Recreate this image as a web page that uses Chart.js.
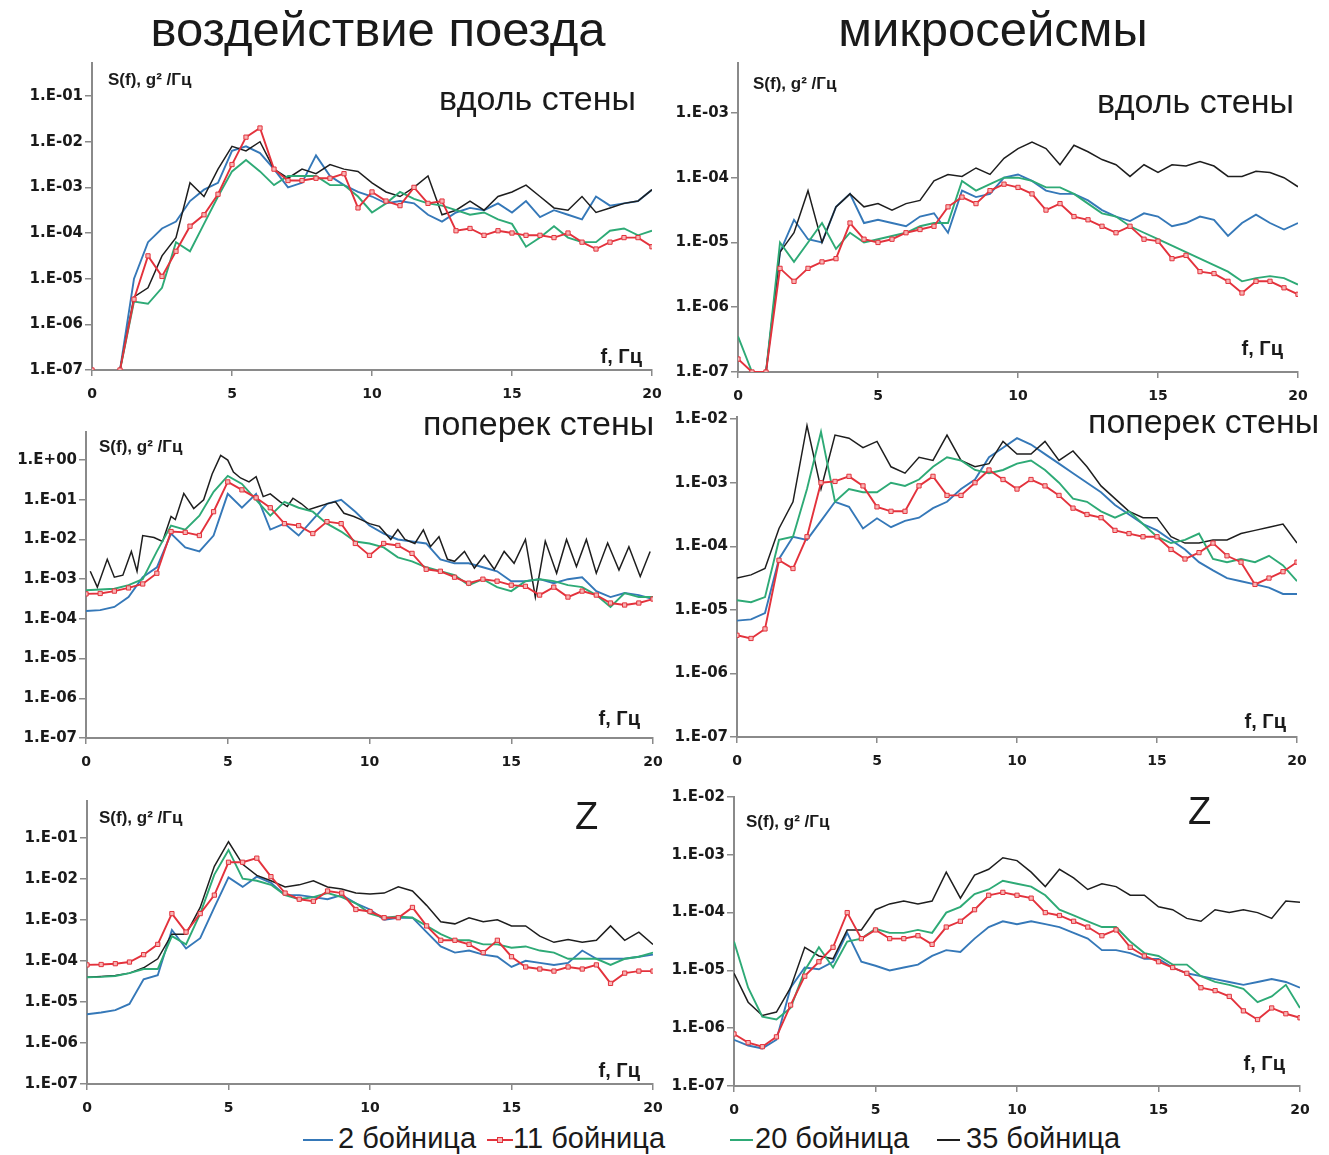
<!DOCTYPE html>
<html>
<head>
<meta charset="utf-8">
<script src="https://cdn.jsdelivr.net/npm/chart.js@4.4.1/dist/chart.umd.min.js"></script>
<style>
body { margin: 0; background: #fff; width: 1329px; height: 1155px; position: relative; overflow: hidden;
       font-family: "Liberation Sans", Arial, sans-serif; color: #1a1a1a; }
.t { position: absolute; white-space: nowrap; line-height: 1; }
.leg { position: absolute; height: 2px; }
</style>
</head>
<body>
<script>
// frequency grid, Hz
const freq = [0,0.5,1,1.5,2,2.5,3,3.5,4,4.5,5,5.5,6,6.5,7,7.5,8,8.5,9,9.5,10,
              10.5,11,11.5,12,12.5,13,13.5,14,14.5,15,15.5,16,16.5,17,17.5,18,18.5,19,19.5,20];
const xTicks = [0, 5, 10, 15, 20];
const seriesNames = ['2 бойница', '11 бойница', '20 бойница', '35 бойница'];

// all spectra below are log10 of S(f)

// воздействие поезда, вдоль стены
const trainAlong2  = [null,null,-7,-5.0,-4.2,-3.9,-3.75,-3.3,-3.05,-2.9,-2.2,-2.1,-2.25,-2.6,-3.0,-2.9,-2.3,-2.75,-2.95,-3.1,-3.2,
                      -3.35,-3.3,-3.35,-3.6,-3.75,-3.55,-3.45,-3.5,-3.35,-3.55,-3.3,-3.65,-3.5,-3.6,-3.7,-3.2,-3.4,-3.35,-3.3,-3.05];
const trainAlong11 = [-7,null,-7,-5.45,-4.5,-4.95,-4.4,-3.85,-3.6,-3.15,-2.5,-1.9,-1.7,-2.6,-2.85,-2.85,-2.8,-2.8,-2.7,-3.45,-3.1,
                      -3.3,-3.4,-3.0,-3.35,-3.3,-3.95,-3.9,-4.05,-3.95,-4.0,-4.05,-4.05,-4.1,-4.0,-4.2,-4.35,-4.2,-4.1,-4.1,-4.3];
const trainAlong20 = [null,null,-7,-5.5,-5.55,-5.2,-4.2,-4.4,-3.8,-3.2,-2.65,-2.4,-2.65,-2.95,-2.75,-2.75,-2.75,-2.95,-2.95,-3.2,-3.55,
                      -3.35,-3.1,-3.25,-3.35,-3.4,-3.5,-3.6,-3.55,-3.7,-3.8,-4.3,-4.1,-3.85,-4.1,-4.2,-4.2,-3.95,-3.9,-4.05,-3.95];
const trainAlong35 = [null,null,-7,-5.4,-5.2,-4.5,-4.1,-2.9,-3.2,-2.6,-2.1,-2.2,-2.0,-2.6,-2.8,-2.6,-2.7,-2.5,-2.6,-2.65,-2.9,
                      -3.1,-3.2,-3.0,-2.75,-3.6,-3.5,-3.3,-3.5,-3.2,-3.1,-2.95,-3.2,-3.45,-3.5,-3.2,-3.55,-3.45,-3.35,-3.3,-3.05];

// микросейсмы, вдоль стены
const microAlong2  = [null,null,-7,-5.15,-4.65,-4.95,-5.0,-4.45,-4.25,-4.7,-4.65,-4.7,-4.75,-4.6,-4.55,-4.85,-4.2,-4.3,-4.25,-4.0,-3.95,
                      -4.05,-4.2,-4.25,-4.25,-4.35,-4.5,-4.6,-4.67,-4.55,-4.6,-4.75,-4.7,-4.6,-4.65,-4.9,-4.7,-4.57,-4.7,-4.8,-4.7];
const microAlong11 = [-6.8,-7,-7,-5.4,-5.6,-5.4,-5.3,-5.25,-4.7,-4.95,-5.0,-4.95,-4.85,-4.8,-4.75,-4.45,-4.3,-4.4,-4.2,-4.1,-4.15,
                      -4.25,-4.5,-4.4,-4.6,-4.65,-4.75,-4.85,-4.75,-4.95,-4.98,-5.25,-5.2,-5.45,-5.48,-5.6,-5.78,-5.6,-5.6,-5.7,-5.8];
const microAlong20 = [-6.45,-7,-7,-5.0,-5.3,-5.0,-4.7,-5.1,-4.85,-5.0,-4.95,-4.9,-4.85,-4.75,-4.7,-4.7,-4.05,-4.2,-4.1,-4.0,-4.0,
                      -4.05,-4.15,-4.15,-4.25,-4.4,-4.55,-4.6,-4.75,-4.85,-4.95,-5.05,-5.15,-5.25,-5.35,-5.45,-5.6,-5.55,-5.52,-5.55,-5.65];
const microAlong35 = [null,null,-7,-5.15,-4.85,-4.2,-5.0,-4.45,-4.25,-4.45,-4.4,-4.5,-4.4,-4.35,-4.05,-3.95,-3.98,-3.85,-3.95,-3.7,-3.55,
                      -3.45,-3.55,-3.8,-3.5,-3.6,-3.72,-3.8,-3.98,-3.8,-3.92,-3.8,-3.82,-3.75,-3.82,-3.98,-3.98,-3.9,-3.92,-4.0,-4.14];

// воздействие поезда, поперек стены
const trainAcross2  = [-3.8,-3.78,-3.7,-3.45,-2.95,-2.7,-1.85,-2.2,-2.3,-1.9,-0.85,-1.2,-0.85,-1.75,-1.6,-1.9,-1.5,-1.1,-1.0,-1.3,-1.65,
                       -1.85,-2.0,-2.05,-2.1,-2.5,-2.6,-2.6,-2.7,-2.8,-3.05,-3.05,-3.0,-3.1,-3.0,-2.95,-3.3,-3.45,-3.35,-3.4,-3.5];
const trainAcross11 = [-3.37,-3.36,-3.3,-3.22,-3.12,-2.85,-1.8,-1.82,-1.9,-1.3,-0.55,-0.75,-0.95,-1.2,-1.6,-1.65,-1.85,-1.55,-1.6,-2.1,-2.4,
                       -2.1,-2.15,-2.35,-2.75,-2.8,-2.95,-3.1,-3.0,-3.05,-3.15,-3.18,-3.4,-3.2,-3.45,-3.3,-3.4,-3.6,-3.65,-3.6,-3.5];
const trainAcross20 = [-3.28,-3.26,-3.24,-3.15,-3.0,-2.3,-1.65,-1.75,-1.4,-0.8,-0.4,-0.6,-1.0,-1.4,-1.05,-1.2,-1.3,-1.6,-1.8,-2.05,-2.1,
                       -2.2,-2.45,-2.55,-2.7,-2.8,-2.9,-3.15,-3.0,-3.2,-3.3,-3.05,-3.0,-3.05,-3.15,-3.2,-3.4,-3.7,-3.35,-3.45,-3.45];
// 35 бойница here oscillates faster than the 0.5 Hz grid, so it has its own frequencies
const trainAcross35Freq = [0.15,0.4,0.75,1.0,1.3,1.6,1.8,2.0,2.4,2.7,3.0,3.15,3.45,3.8,4.15,4.45,4.75,5.0,5.2,5.45,
                           5.75,6.0,6.25,6.5,6.85,7.1,7.3,7.6,7.85,8.2,8.55,8.8,9.1,9.45,9.7,10.0,10.35,10.75,11.0,11.25,
                           11.6,11.9,12.15,12.45,12.75,13.0,13.35,13.7,14.05,14.4,14.75,15.1,15.5,15.85,16.2,16.6,16.95,17.3,17.65,18.0,
                           18.4,18.8,19.15,19.55,19.9];
const trainAcross35 = [-2.8,-3.2,-2.5,-2.95,-2.9,-2.3,-2.8,-1.9,-1.95,-2.05,-1.42,-1.5,-0.84,-1.22,-1.0,-0.35,0.12,0.0,-0.3,-0.45,
                       -0.55,-0.42,-0.92,-0.85,-1.05,-1.17,-0.96,-1.1,-1.25,-1.17,-1.09,-1.05,-1.34,-1.42,-1.5,-1.6,-1.67,-2.0,-1.75,-2.0,
                       -2.1,-1.76,-2.18,-1.93,-2.5,-2.55,-2.3,-2.72,-2.4,-2.75,-2.3,-2.6,-2.0,-3.45,-2.04,-2.85,-2.0,-2.68,-2.0,-2.85,
                       -2.09,-2.77,-2.18,-2.93,-2.3];

// микросейсмы, поперек стены
const microAcross2  = [-5.17,-5.15,-5.05,-4.2,-3.85,-3.9,-3.6,-3.3,-3.38,-3.72,-3.56,-3.7,-3.6,-3.55,-3.4,-3.3,-3.1,-2.95,-2.6,-2.45,-2.3,
                       -2.4,-2.55,-2.7,-2.85,-3.0,-3.15,-3.35,-3.5,-3.65,-3.75,-3.9,-4.05,-4.25,-4.38,-4.5,-4.55,-4.6,-4.65,-4.75,-4.75];
const microAcross11 = [-5.4,-5.45,-5.3,-4.22,-4.35,-3.85,-3.0,-2.98,-2.9,-3.05,-3.38,-3.45,-3.45,-3.05,-2.9,-3.2,-3.2,-3.0,-2.8,-2.95,-3.1,
                       -2.95,-3.05,-3.2,-3.4,-3.5,-3.55,-3.75,-3.8,-3.85,-3.85,-4.05,-4.2,-4.1,-3.95,-4.15,-4.25,-4.6,-4.5,-4.4,-4.25];
const microAcross20 = [-4.85,-4.88,-4.8,-3.9,-3.85,-3.1,-2.2,-3.3,-3.1,-3.15,-3.15,-3.0,-3.05,-2.95,-2.75,-2.6,-2.65,-2.8,-2.85,-2.8,-2.7,
                       -2.65,-2.8,-3.0,-3.25,-3.3,-3.45,-3.55,-3.45,-3.65,-3.85,-3.95,-3.9,-3.8,-4.2,-4.25,-4.2,-4.25,-4.15,-4.3,-4.55];
const microAcross35 = [-4.5,-4.45,-4.35,-3.72,-3.3,-2.1,-3.1,-2.25,-2.3,-2.45,-2.35,-2.75,-2.85,-2.6,-2.65,-2.25,-2.65,-2.75,-2.7,-2.35,-2.55,
                       -2.55,-2.35,-2.65,-2.5,-2.75,-3.05,-3.25,-3.45,-3.55,-3.55,-3.85,-3.95,-3.95,-3.9,-3.9,-3.8,-3.75,-3.7,-3.65,-3.95];

// воздействие поезда, Z
const trainZ2  = [-5.3,-5.26,-5.2,-5.05,-4.45,-4.35,-3.25,-3.7,-3.45,-2.7,-1.97,-2.2,-1.95,-2.1,-2.4,-2.4,-2.45,-2.5,-2.4,-2.6,-2.75,
                  -3.0,-2.95,-2.95,-3.3,-3.65,-3.8,-3.75,-3.85,-3.9,-4.15,-4.0,-4.05,-4.1,-4.05,-3.75,-3.95,-3.95,-3.95,-3.9,-3.85];
const trainZ11 = [-4.1,-4.09,-4.07,-4.03,-3.85,-3.6,-2.85,-3.3,-2.85,-2.4,-1.6,-1.6,-1.5,-1.95,-2.35,-2.5,-2.55,-2.3,-2.35,-2.75,-2.8,
                  -2.95,-2.95,-2.7,-3.15,-3.5,-3.5,-3.6,-3.8,-3.5,-3.9,-4.15,-4.2,-4.25,-4.15,-4.2,-4.1,-4.55,-4.3,-4.25,-4.25];
const trainZ20 = [-4.4,-4.39,-4.37,-4.3,-4.2,-4.2,-3.4,-3.6,-2.85,-1.9,-1.3,-2.0,-2.05,-2.15,-2.4,-2.5,-2.45,-2.35,-2.45,-2.6,-2.85,
                  -2.95,-2.92,-2.95,-3.15,-3.35,-3.5,-3.5,-3.6,-3.6,-3.68,-3.65,-3.75,-3.8,-3.95,-3.95,-3.95,-4.1,-3.95,-3.9,-3.8];
const trainZ35 = [-4.4,-4.38,-4.36,-4.3,-4.17,-3.95,-3.35,-3.35,-2.7,-1.7,-1.1,-1.65,-1.92,-2.05,-2.2,-2.15,-2.05,-2.2,-2.25,-2.35,-2.37,
                  -2.35,-2.2,-2.3,-2.65,-3.05,-3.1,-2.95,-3.05,-3.0,-3.15,-3.15,-3.4,-3.55,-3.48,-3.55,-3.5,-3.15,-3.5,-3.3,-3.6];

// микросейсмы, Z
const microZ2  = [-6.2,-6.3,-6.35,-6.2,-5.3,-4.95,-4.98,-4.85,-4.35,-4.85,-4.92,-5.0,-4.95,-4.9,-4.75,-4.65,-4.68,-4.45,-4.25,-4.15,-4.2,
                  -4.15,-4.2,-4.25,-4.35,-4.45,-4.65,-4.65,-4.7,-4.8,-4.8,-4.95,-5.05,-5.1,-5.15,-5.2,-5.25,-5.2,-5.15,-5.2,-5.3];
const microZ11 = [-6.1,-6.25,-6.32,-6.15,-5.6,-5.1,-4.85,-4.6,-4.0,-4.45,-4.3,-4.45,-4.45,-4.4,-4.55,-4.25,-4.15,-3.95,-3.7,-3.65,-3.7,
                  -3.75,-4.0,-4.05,-4.15,-4.25,-4.4,-4.3,-4.6,-4.75,-4.85,-4.95,-5.05,-5.3,-5.35,-5.45,-5.7,-5.85,-5.65,-5.75,-5.82];
const microZ20 = [-4.5,-5.3,-5.8,-5.85,-5.65,-5.0,-4.6,-4.95,-4.5,-4.45,-4.28,-4.35,-4.35,-4.3,-4.35,-4.0,-3.9,-3.68,-3.6,-3.45,-3.5,
                  -3.55,-3.7,-3.95,-4.05,-4.15,-4.25,-4.25,-4.5,-4.7,-4.75,-4.9,-4.9,-5.1,-5.2,-5.25,-5.32,-5.55,-5.45,-5.25,-5.65];
const microZ35 = [-5.05,-5.55,-5.78,-5.72,-5.3,-4.6,-4.75,-4.8,-4.3,-4.3,-3.95,-3.85,-3.8,-3.85,-3.8,-3.3,-3.75,-3.35,-3.25,-3.05,-3.1,
                  -3.3,-3.55,-3.25,-3.4,-3.6,-3.5,-3.55,-3.7,-3.7,-3.9,-3.95,-4.1,-4.15,-3.95,-4.0,-3.95,-4.0,-4.1,-3.8,-3.82];

// y tick labels of each panel
const ticksTrainAlong  = ['1.E-07','1.E-06','1.E-05','1.E-04','1.E-03','1.E-02','1.E-01'];
const ticksMicroAlong  = ['1.E-07','1.E-06','1.E-05','1.E-04','1.E-03'];
const ticksTrainAcross = ['1.E-07','1.E-06','1.E-05','1.E-04','1.E-03','1.E-02','1.E-01','1.E+00'];
const ticksMicroAcross = ['1.E-07','1.E-06','1.E-05','1.E-04','1.E-03','1.E-02'];
const ticksTrainZ      = ['1.E-07','1.E-06','1.E-05','1.E-04','1.E-03','1.E-02','1.E-01'];
const ticksMicroZ      = ['1.E-07','1.E-06','1.E-05','1.E-04','1.E-03','1.E-02'];

const colors = ['#3578b8', '#e3323c', '#2eaa76', '#1e1e1e'];
const axisGrey = '#8a8a8a';

// area = [left, top, right, bottom] of the plot area on the page
const panels = [
  { area: [92, 63, 652, 370],  max: 0.53,   ticks: ticksTrainAlong,
    series: [[freq, trainAlong2], [freq, trainAlong11], [freq, trainAlong20], [freq, trainAlong35]] },
  { area: [738, 63, 1298, 372], max: 5.9e-3, ticks: ticksMicroAlong,
    series: [[freq, microAlong2], [freq, microAlong11], [freq, microAlong20], [freq, microAlong35]] },
  { area: [86, 432, 653, 738],  max: 5.1,    ticks: ticksTrainAcross,
    series: [[freq, trainAcross2], [freq, trainAcross11], [freq, trainAcross20], [trainAcross35Freq, trainAcross35]] },
  { area: [737, 417, 1297, 737], max: 1.08e-2, ticks: ticksMicroAcross,
    series: [[freq, microAcross2], [freq, microAcross11], [freq, microAcross20], [freq, microAcross35]] },
  { area: [87, 801, 653, 1084], max: 0.78,   ticks: ticksTrainZ,
    series: [[freq, trainZ2], [freq, trainZ11], [freq, trainZ20], [freq, trainZ35]] },
  { area: [734, 797, 1300, 1086], max: 1.0e-2, ticks: ticksMicroZ,
    series: [[freq, microZ2], [freq, microZ11], [freq, microZ20], [freq, microZ35]] }
];

function makeDataset(xs, ys, i) {
  const red = i === 1;
  return {
    label: seriesNames[i],
    data: xs.map((f, k) => ({ x: f, y: ys[k] === null ? null : Math.pow(10, ys[k]) })),
    borderColor: colors[i],
    borderWidth: i === 3 ? 1.5 : 1.9,
    pointRadius: red ? 3 : 0,
    pointStyle: 'rect',
    pointBorderWidth: 1,
    pointBorderColor: colors[1],
    pointBackgroundColor: '#f7b5b5',
    tension: 0,
    spanGaps: false,
    order: [3, 0, 1, 2][i]
  };
}

// y axis box width, top padding, right padding (room for the "20" label), x axis box height
const YW = 75, PT = 12, PR = 28, XH = 36;
const yTickFont = { family: 'DejaVu Sans', weight: 'bold', size: 15 };
const xTickFont = { family: 'DejaVu Sans', weight: 'bold', size: 14 };

panels.forEach(p => {
  const [L, T, R, B] = p.area;
  const w = R - L + YW + PR, h = B - T + PT + XH;
  const c = document.createElement('canvas');
  c.width = w; c.height = h;
  c.style.cssText = 'position:absolute;left:' + (L - YW) + 'px;top:' + (T - PT) + 'px;width:' + w + 'px;height:' + h + 'px';
  document.body.appendChild(c);
  const labelOf = new Map(p.ticks.map(s => [Number(s), s]));
  new Chart(c, {
    type: 'line',
    data: { datasets: p.series.map((s, i) => makeDataset(s[0], s[1], i)) },
    options: {
      responsive: false,
      animation: false,
      devicePixelRatio: 1,
      layout: { padding: { top: PT, right: PR, left: 0, bottom: 0 } },
      plugins: { legend: { display: false }, tooltip: { enabled: false } },
      scales: {
        x: {
          type: 'linear', min: 0, max: 20,
          afterBuildTicks: a => { a.ticks = xTicks.map(v => ({ value: v })); },
          afterFit: a => { a.height = XH; },
          grid: { drawOnChartArea: false, color: axisGrey, tickLength: 6, lineWidth: 1.5 },
          border: { color: axisGrey, width: 2 },
          ticks: { font: xTickFont, color: '#1a1a1a', padding: 10, maxRotation: 0, autoSkip: false }
        },
        y: {
          type: 'logarithmic', min: 1e-7, max: p.max, bounds: 'data',
          afterBuildTicks: a => { a.ticks = p.ticks.map(s => ({ value: Number(s) })); },
          afterFit: a => { a.width = YW; },
          grid: { drawOnChartArea: false, color: axisGrey, tickLength: 7, lineWidth: 1.5 },
          border: { color: axisGrey, width: 2 },
          ticks: { font: yTickFont, color: '#1a1a1a', padding: 2, autoSkip: false,
                   callback: v => labelOf.get(v) || '' }
        }
      }
    }
  });
});

// text placed by its baseline
function text(str, x, base, size, opt) {
  opt = opt || {};
  const d = document.createElement('div');
  d.className = 't';
  d.textContent = str;
  d.style.fontSize = size + 'px';
  d.style.top = (base - 0.8465 * size) + 'px';
  if (opt.bold) d.style.fontWeight = 'bold';
  if (opt.align === 'right') d.style.right = (1329 - x) + 'px';
  else if (opt.align === 'center') { d.style.left = x + 'px'; d.style.transform = 'translateX(-50%)'; }
  else d.style.left = x + 'px';
  document.body.appendChild(d);
}

text('воздействие поезда', 378, 46, 49, { align: 'center' });
text('микросейсмы', 993, 46, 49, { align: 'center' });
text('вдоль стены', 439, 110, 34);
text('вдоль стены', 1097, 113, 34);
text('поперек стены', 423, 435, 34);
text('поперек стены', 1088, 433, 34);
text('Z', 575, 829, 38);
text('Z', 1188, 824, 38);

const yTitle = 'S(f), g² /Гц';
text(yTitle, 108, 85, 17, { bold: true });
text(yTitle, 753, 89, 17, { bold: true });
text(yTitle, 99, 452, 17, { bold: true });
text(yTitle, 99, 823, 17, { bold: true });
text(yTitle, 746, 827, 17, { bold: true });

const xTitle = 'f, Гц';
text(xTitle, 642, 363, 20, { bold: true, align: 'right' });
text(xTitle, 1283, 355, 20, { bold: true, align: 'right' });
text(xTitle, 640, 725, 20, { bold: true, align: 'right' });
text(xTitle, 1286, 728, 20, { bold: true, align: 'right' });
text(xTitle, 640, 1077, 20, { bold: true, align: 'right' });
text(xTitle, 1285, 1070, 20, { bold: true, align: 'right' });

// legend along the bottom
const legendItems = [[303, 333, 338], [487, 513, 513], [730, 753, 755], [937, 960, 966]];
legendItems.forEach((it, i) => {
  const ln = document.createElement('div');
  ln.className = 'leg';
  ln.style.cssText = 'left:' + it[0] + 'px;top:1139px;width:' + (it[1] - it[0]) + 'px;background:' + colors[i];
  document.body.appendChild(ln);
  if (i === 1) {
    const m = document.createElement('div');
    m.style.cssText = 'position:absolute;left:' + ((it[0] + it[1]) / 2 - 3) + 'px;top:1137px;width:4px;height:4px;border:1px solid ' + colors[1] + ';background:#f7b5b5';
    document.body.appendChild(m);
  }
  text(seriesNames[i], it[2], 1149, 29);
});
</script>
</body>
</html>
